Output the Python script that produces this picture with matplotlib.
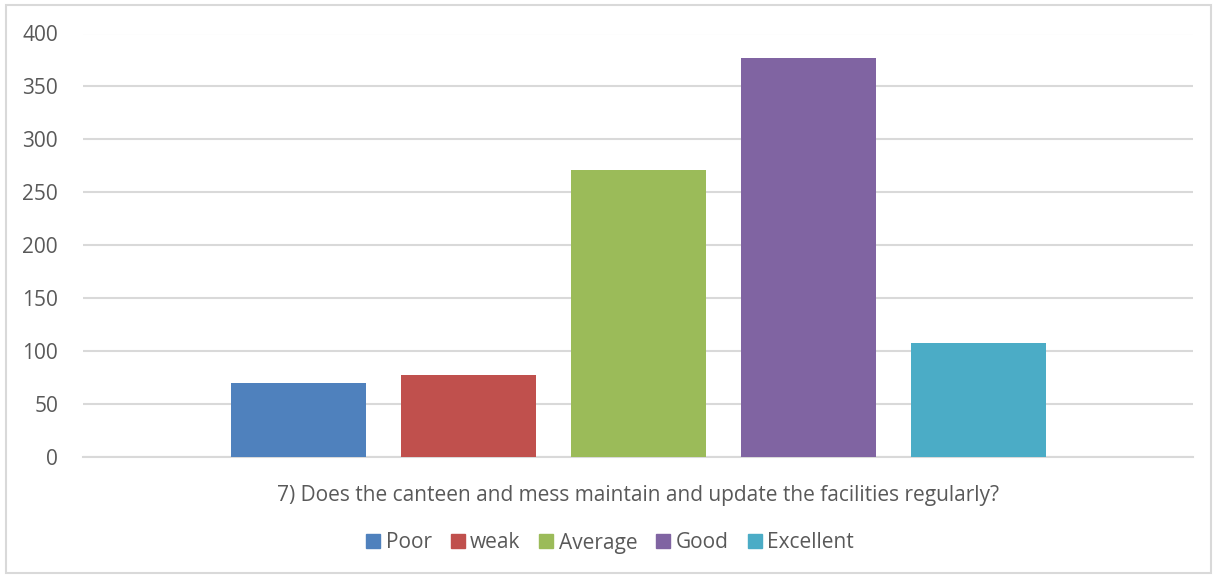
import matplotlib
matplotlib.use('Agg')
import matplotlib.pyplot as plt
import matplotlib.patches as patches
import numpy as np

question = "7) Does the canteen and mess maintain and update the facilities regularly?"
series = ["Poor", "weak", "Average", "Good", "Excellent"]
values = [70, 77, 271, 377, 108]
colors = ["#4F81BD", "#C0504D", "#9BBB59", "#8064A2", "#4BACC6"]
yticks = [0, 50, 100, 150, 200, 250, 300, 350, 400]

plt.rcParams['font.family'] = ['Open Sans', 'DejaVu Sans']
text_col = '#595959'
grid_col = '#D9D9D9'
fs = 15

fig = plt.figure(figsize=(12.17, 5.77), dpi=100)
ax = fig.add_axes([83/1217, 1 - 457/577, 1110/1217, (457 - 33.5)/577])

# grouped bars inside a single category
width = 135/1110
step = 170/1110
for i, (name, v, c) in enumerate(zip(series, values, colors)):
    ax.bar((i - 2) * step, v, width=width, color=c, label=name, zorder=3)

ax.set_xlim(-0.5, 0.5)
ax.set_ylim(0, 400)
ax.set_yticks(yticks)
ax.set_xticks([0], [question])
ax.grid(axis='y', color=grid_col, linewidth=1.5, zorder=0)
for s in ['top', 'right', 'left']:
    ax.spines[s].set_visible(False)
ax.spines['bottom'].set_color(grid_col)
ax.spines['bottom'].set_linewidth(1.5)
ax.tick_params(axis='y', length=0, pad=18, labelsize=fs, labelcolor=text_col)
ax.tick_params(axis='x', length=0, pad=20.5, labelsize=fs, labelcolor=text_col)

handles = [patches.Patch(color=c) for c in colors]
fig.legend(handles, series, loc='center', bbox_to_anchor=(610/1217, 1 - 543/577),
           ncol=5, frameon=False, fontsize=fs, labelcolor=text_col,
           handlelength=0.67, handleheight=0.67, handletextpad=0.25, columnspacing=0.92)

# chart area border
fig.patches.append(patches.Rectangle((6/1217, 4/577), 1205/1217, 568/577,
                                     transform=fig.transFigure, fill=False,
                                     edgecolor=grid_col, linewidth=1.5))

fig.savefig('out.png', dpi=100)
